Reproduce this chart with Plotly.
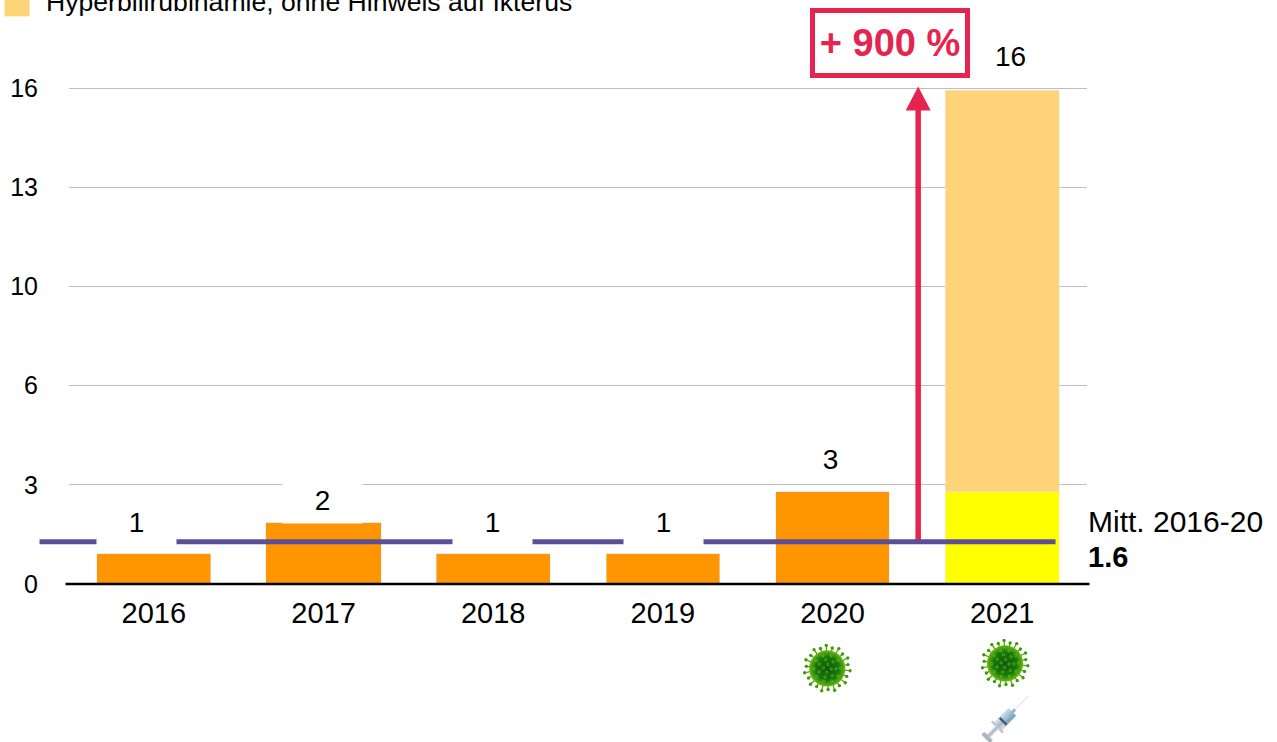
import base64
import math
import plotly.graph_objects as go

# ---- data ----
years = ["2016", "2017", "2018", "2019", "2020", "2021"]
dark_orange = [0.97, 2.0, 0.97, 0.97, 2.97, 0]
yellow = [0, 0, 0, 0, 0, 2.97]
light_orange = [0, 0, 0, 0, 0, 12.97]
labels = ["1", "2", "1", "1", "3", "16"]
tick_vals = [0, 3.2, 6.4, 9.6, 12.8, 16]
tick_text = ["0", "3", "6", "10", "13", "16"]
mean_level = 1.36
arrow_x = [4.505, 4.505]
arrow_y = [1.36, 15.4]
arrow_tip = 16.06
legend_text = "Hyperbilirubinämie, ohne Hinweis auf Ikterus"
mean_label = "Mitt. 2016-20"
mean_value = "1.6"
change_label = "+ 900 %"

# ---- style ----
FONT = "Liberation Sans, Arial, Helvetica, sans-serif"
W, H = 1277, 742
Y_MAX = 16.3
L, R, B = 68.5, 1087.5, 584
T = B - 31 * Y_MAX
CRIMSON = "#E5254F"
PW, PH = R - L, B - T
px = lambda x: (x - L) / PW
py = lambda y: (B - y) / PH
label_xshift = [-17, -1, -1, 1, -2, 8]
label_yshift = [8, -2, 8, 8, 9, 10]
bar_widths = [0.67, 0.68, 0.67, 0.67, 0.67, 0.67]


def uri(svg):
    return "data:image/svg+xml;base64," + base64.b64encode(svg.encode()).decode()


def virus_svg():
    c = 50
    parts = []
    for i in range(22):
        a = 2 * math.pi * i / 22 + 0.1
        r = 47 if i % 2 == 0 else 43
        x1, y1 = c + 30 * math.cos(a), c + 30 * math.sin(a)
        x2, y2 = c + r * math.cos(a), c + r * math.sin(a)
        parts.append(f'<line x1="{x1:.1f}" y1="{y1:.1f}" x2="{x2:.1f}" y2="{y2:.1f}" stroke="#4E9A06" stroke-width="2.4"/>')
        parts.append(f'<circle cx="{x2:.1f}" cy="{y2:.1f}" r="3.4" fill="#3F9A00"/>')
    dots = []
    for r, n in ((8, 4), (18, 7), (27, 10)):
        for i in range(n):
            a = 2 * math.pi * i / n + r
            dots.append(f'<circle cx="{c + r * math.cos(a):.1f}" cy="{c + r * math.sin(a):.1f}" r="2.4" fill="none" stroke="#8CC63F" stroke-width="1.1"/>')
    return (
        '<svg xmlns="http://www.w3.org/2000/svg" viewBox="0 0 100 100" width="100" height="100">'
        '<defs><radialGradient id="g"><stop offset="0" stop-color="#0B5A06"/><stop offset="0.65" stop-color="#157A08"/>'
        '<stop offset="1" stop-color="#6CBB12"/></radialGradient></defs>'
        + "".join(parts) + f'<circle cx="{c}" cy="{c}" r="37" fill="url(#g)"/>' + "".join(dots) + "</svg>"
    )


def syringe_svg():
    return (
        '<svg xmlns="http://www.w3.org/2000/svg" viewBox="0 0 100 100" width="100" height="100">'
        '<defs><linearGradient id="b" x1="0" y1="0" x2="0" y2="1"><stop offset="0" stop-color="#E4EAF0"/>'
        '<stop offset="0.5" stop-color="#A9B8C6"/><stop offset="1" stop-color="#DDE3E9"/></linearGradient>'
        '<linearGradient id="l" x1="0" y1="0" x2="0" y2="1"><stop offset="0" stop-color="#C5DCEC"/>'
        '<stop offset="1" stop-color="#6F9DBF"/></linearGradient></defs>'
        '<g transform="rotate(-45 50 50)">'
        '<line x1="78" y1="50" x2="118" y2="50" stroke="#A8B2BA" stroke-width="1"/>'
        '<rect x="70" y="47" width="9" height="6" fill="#9FB0BC"/>'
        '<rect x="30" y="39" width="41" height="22" rx="2" fill="url(#b)" stroke="#8C99A5" stroke-width="0.7"/>'
        '<rect x="46" y="40" width="25" height="20" fill="url(#l)"/>'
        '<rect x="42" y="40" width="5" height="20" fill="#4A5A68"/>'
        '<rect x="26" y="34" width="4" height="32" rx="1" fill="#C3CBD2" stroke="#8C99A5" stroke-width="0.5"/>'
        '<rect x="2" y="45" width="26" height="10" fill="url(#b)"/>'
        '<rect x="-6" y="38" width="8" height="24" rx="2" fill="#AEB7BF" stroke="#8C99A5" stroke-width="0.5"/>'
        "</g></svg>"
    )


x_pos = list(range(len(years)))
fig = go.Figure()
bar_kw = dict(x=x_pos, width=bar_widths, hoverinfo="skip", showlegend=False)
fig.add_bar(y=dark_orange, marker_color="#FF9500", **bar_kw)
fig.add_bar(y=yellow, marker_color="#FFFF00", **bar_kw)
fig.add_bar(y=light_orange, marker_color="#FFD377", name=legend_text, **bar_kw)

fig.add_scatter(x=arrow_x, y=arrow_y, mode="lines", cliponaxis=False, showlegend=False,
                line=dict(color=CRIMSON, width=5.5), hoverinfo="skip")

ann = []
for i, t in enumerate(labels):
    ann.append(dict(x=x_pos[i], y=dark_orange[i] + yellow[i] + light_orange[i], xref="x", yref="y", text=t,
                    showarrow=False, yanchor="bottom", xanchor="center", xshift=label_xshift[i], yshift=label_yshift[i],
                    width=79, height=46, bgcolor="white", borderpad=0, font=dict(size=28, color="black")))
ann += [
    dict(x=px(890), y=py(43), xref="paper", yref="paper", xanchor="center", yanchor="middle",
         text=f"<b>{change_label}</b>", showarrow=False,
         width=150, height=60, bgcolor="white", bordercolor=CRIMSON, borderwidth=5, borderpad=0,
         font=dict(size=38, color=CRIMSON)),
    dict(x=px(1088), y=py(521), xref="paper", yref="paper", xanchor="left", yanchor="middle", text=mean_label,
         showarrow=False, borderpad=0, font=dict(size=30, color="black")),
    dict(x=px(1088), y=py(557), xref="paper", yref="paper", xanchor="left", yanchor="middle",
         text=f"<b>{mean_value}</b>", showarrow=False, borderpad=0, font=dict(size=29, color="black")),
    dict(x=px(44), y=py(2), xref="paper", yref="paper", xanchor="left", yanchor="middle", text=legend_text,
         showarrow=False, borderpad=0, font=dict(size=26.6, color="black")),
]

shapes = [
    dict(type="rect", xref="paper", yref="paper", x0=px(4), x1=px(29), y0=py(16), y1=py(-5),
         fillcolor="#FFD377", line_width=0),
    dict(type="line", xref="paper", yref="paper", x0=px(65), x1=px(1090), y0=py(584), y1=py(584),
         line=dict(color="black", width=2.5)),
    dict(type="line", xref="paper", yref="y", x0=px(39), x1=px(1056), y0=mean_level, y1=mean_level,
         line=dict(color="#5B4F96", width=5)),
    dict(type="path", xref="x", yref="y", xsizemode="pixel", ysizemode="pixel",
         xanchor=arrow_x[1], yanchor=arrow_tip, path="M0,0 L-12.5,-24 L12.5,-24 Z",
         fillcolor=CRIMSON, line_width=0),
]


def img(svg, x0, y0, w, h):
    return dict(source=uri(svg), xref="paper", yref="paper", x=px(x0), y=py(y0), sizex=w / PW, sizey=h / PH,
                xanchor="left", yanchor="top", sizing="stretch", layer="above")


images = [
    img(virus_svg(), 803, 644, 49, 49),
    img(virus_svg(), 981, 639, 49, 49),
    img(syringe_svg(), 981, 695, 49, 49),
]

fig.update_layout(
    width=W, height=H, barmode="stack", showlegend=False,
    margin=dict(l=L, r=W - R, t=T, b=H - B, pad=0, autoexpand=False),
    paper_bgcolor="white", plot_bgcolor="white",
    font=dict(family=FONT, size=28, color="black"),
    annotations=ann, shapes=shapes, images=images,
    xaxis=dict(range=[-0.5, 5.5], tickmode="array", tickvals=x_pos, ticktext=years, showgrid=False,
               zeroline=False, showline=False, ticks="", ticklabelstandoff=9, tickfont=dict(size=29)),
    yaxis=dict(range=[0, Y_MAX], tickmode="array", tickvals=tick_vals, ticktext=tick_text, showgrid=True,
               gridcolor="#BEBEBE", gridwidth=1.2, zeroline=False, showline=False, ticks="",
               ticklabelstandoff=30, tickfont=dict(size=25)),
)
fig.write_html("out.html", config=dict(displayModeBar=False),
               post_script="document.body.style.margin='0';document.body.style.overflow='hidden';")
